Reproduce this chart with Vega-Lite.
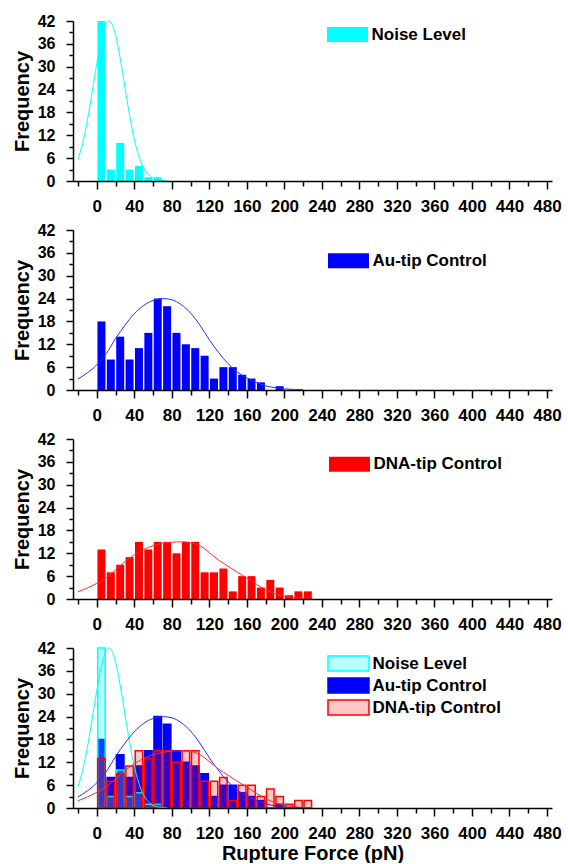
{
  "$schema": "https://vega.github.io/schema/vega-lite/v6.json",
  "background": "white",
  "padding": {"left": 12, "top": 13, "right": 0, "bottom": 0},
  "spacing": 8,
  "datasets": {
    "noise": [
      {"x": 5, "count": 42, "series": "Noise Level"},
      {"x": 15, "count": 3, "series": "Noise Level"},
      {"x": 25, "count": 10, "series": "Noise Level"},
      {"x": 35, "count": 3, "series": "Noise Level"},
      {"x": 45, "count": 4, "series": "Noise Level"},
      {"x": 55, "count": 1, "series": "Noise Level"},
      {"x": 65, "count": 1, "series": "Noise Level"}
    ],
    "au": [
      {"x": 5, "count": 18, "series": "Au-tip Control"},
      {"x": 15, "count": 8, "series": "Au-tip Control"},
      {"x": 25, "count": 14, "series": "Au-tip Control"},
      {"x": 35, "count": 8, "series": "Au-tip Control"},
      {"x": 45, "count": 11, "series": "Au-tip Control"},
      {"x": 55, "count": 15, "series": "Au-tip Control"},
      {"x": 65, "count": 24, "series": "Au-tip Control"},
      {"x": 75, "count": 22, "series": "Au-tip Control"},
      {"x": 85, "count": 15, "series": "Au-tip Control"},
      {"x": 95, "count": 12, "series": "Au-tip Control"},
      {"x": 105, "count": 11, "series": "Au-tip Control"},
      {"x": 115, "count": 9, "series": "Au-tip Control"},
      {"x": 125, "count": 3, "series": "Au-tip Control"},
      {"x": 135, "count": 6, "series": "Au-tip Control"},
      {"x": 145, "count": 6, "series": "Au-tip Control"},
      {"x": 155, "count": 4, "series": "Au-tip Control"},
      {"x": 165, "count": 3, "series": "Au-tip Control"},
      {"x": 175, "count": 2, "series": "Au-tip Control"},
      {"x": 195, "count": 1, "series": "Au-tip Control"}
    ],
    "dna": [
      {"x": 5, "count": 13, "series": "DNA-tip Control"},
      {"x": 15, "count": 7, "series": "DNA-tip Control"},
      {"x": 25, "count": 9, "series": "DNA-tip Control"},
      {"x": 35, "count": 11, "series": "DNA-tip Control"},
      {"x": 45, "count": 15, "series": "DNA-tip Control"},
      {"x": 55, "count": 13, "series": "DNA-tip Control"},
      {"x": 65, "count": 15, "series": "DNA-tip Control"},
      {"x": 75, "count": 15, "series": "DNA-tip Control"},
      {"x": 85, "count": 12, "series": "DNA-tip Control"},
      {"x": 95, "count": 15, "series": "DNA-tip Control"},
      {"x": 105, "count": 15, "series": "DNA-tip Control"},
      {"x": 115, "count": 7, "series": "DNA-tip Control"},
      {"x": 125, "count": 7, "series": "DNA-tip Control"},
      {"x": 135, "count": 8, "series": "DNA-tip Control"},
      {"x": 145, "count": 2, "series": "DNA-tip Control"},
      {"x": 155, "count": 6, "series": "DNA-tip Control"},
      {"x": 165, "count": 6, "series": "DNA-tip Control"},
      {"x": 175, "count": 3, "series": "DNA-tip Control"},
      {"x": 185, "count": 5, "series": "DNA-tip Control"},
      {"x": 195, "count": 3, "series": "DNA-tip Control"},
      {"x": 205, "count": 1, "series": "DNA-tip Control"},
      {"x": 215, "count": 2, "series": "DNA-tip Control"},
      {"x": 225, "count": 2, "series": "DNA-tip Control"}
    ],
    "noiseFit": [
      {"x": -20, "count": 5.7}, {"x": -15, "count": 9.9}, {"x": -10, "count": 15.9}, {"x": -5, "count": 23.2},
      {"x": 0, "count": 30.8}, {"x": 5, "count": 37.3}, {"x": 10, "count": 41.3}, {"x": 13, "count": 42},
      {"x": 15, "count": 41.7}, {"x": 20, "count": 38.4}, {"x": 25, "count": 32.2}, {"x": 30, "count": 24.7},
      {"x": 35, "count": 17.3}, {"x": 40, "count": 11.0}, {"x": 45, "count": 6.4}, {"x": 50, "count": 3.4},
      {"x": 55, "count": 1.65}, {"x": 60, "count": 0.73}, {"x": 65, "count": 0.29}, {"x": 70, "count": 0.11},
      {"x": 75, "count": 0.04}
    ],
    "auFit": [
      {"x": -20, "count": 2.9}, {"x": -10, "count": 4.5}, {"x": 0, "count": 6.6}, {"x": 10, "count": 9.5},
      {"x": 20, "count": 13.5}, {"x": 30, "count": 17.0}, {"x": 40, "count": 20.0}, {"x": 50, "count": 22.2},
      {"x": 60, "count": 23.5}, {"x": 70, "count": 24.0}, {"x": 80, "count": 23.7}, {"x": 90, "count": 22.4},
      {"x": 100, "count": 20.2}, {"x": 110, "count": 17.0}, {"x": 120, "count": 13.2}, {"x": 130, "count": 9.8},
      {"x": 140, "count": 6.9}, {"x": 150, "count": 4.7}, {"x": 160, "count": 3.2}, {"x": 170, "count": 2.0},
      {"x": 180, "count": 1.1}, {"x": 190, "count": 0.6}, {"x": 200, "count": 0.3}, {"x": 210, "count": 0.15},
      {"x": 220, "count": 0.07}
    ],
    "dnaFit": [
      {"x": -20, "count": 1.9}, {"x": -10, "count": 2.9}, {"x": 0, "count": 4.1}, {"x": 10, "count": 5.6},
      {"x": 20, "count": 7.6}, {"x": 30, "count": 9.8}, {"x": 40, "count": 11.6}, {"x": 50, "count": 13.0},
      {"x": 60, "count": 14.0}, {"x": 70, "count": 14.6}, {"x": 80, "count": 14.9}, {"x": 90, "count": 15.0},
      {"x": 100, "count": 14.8}, {"x": 110, "count": 14.0}, {"x": 120, "count": 12.2}, {"x": 130, "count": 10.2},
      {"x": 140, "count": 8.6}, {"x": 150, "count": 7.0}, {"x": 160, "count": 5.5}, {"x": 170, "count": 3.9},
      {"x": 180, "count": 2.5}, {"x": 190, "count": 1.4}, {"x": 200, "count": 0.7}, {"x": 210, "count": 0.35},
      {"x": 220, "count": 0.15}, {"x": 230, "count": 0.05}
    ]
  },
  "config": {
    "view": {"stroke": null},
    "axis": {
      "labelFont": "Liberation Sans", "labelFontWeight": "bold", "labelColor": "black",
      "titleFont": "Liberation Sans", "titleFontWeight": "bold", "titleColor": "black", "titleFontSize": 20,
      "domainColor": "black", "tickColor": "black", "domainWidth": 1.5, "tickWidth": 1.5,
      "grid": false, "labelFlush": false, "labelOverlap": false
    },
    "legend": {
      "orient": "none", "title": null, "labelFont": "Liberation Sans", "labelFontSize": 17,
      "labelFontWeight": "bold", "labelColor": "black", "symbolType": "M-2.733,-1H2.733V1H-2.733Z",
      "symbolSize": 225, "labelOffset": 15.5, "rowPadding": 1, "padding": 0, "symbolStrokeWidth": 1.5
    }
  },
  "resolve": {"scale": {"color": "independent", "stroke": "independent"}, "legend": {"color": "independent", "stroke": "independent"}},
  "vconcat": [
    {
      "width": 479, "height": 160,
      "encoding": {
        "x": {"field": "x", "type": "quantitative", "scale": {"domain": [-20, 480], "nice": false},
          "axis": {"title": null, "values": [-20,0,20,40,60,80,100,120,140,160,180,200,220,240,260,280,300,320,340,360,380,400,420,440,460,480],
            "labelExpr": "datum.value % 40 === 0 ? datum.label : ''", "labelFontSize": 17, "labelPadding": 9, "labelOverlap": false, "labelFlush": false,
            "tickSize": {"condition": {"test": "datum.value % 40 === 0", "value": 8}, "value": 5}, "zindex": 1}},
        "y": {"field": "count", "type": "quantitative", "stack": null, "scale": {"domain": [0, 42], "nice": false},
          "axis": {"title": "Frequency", "values": [0,3,6,9,12,15,18,21,24,27,30,33,36,39,42],
            "labelExpr": "datum.value % 6 === 0 ? datum.label : ''", "labelFontSize": 16, "labelPadding": 11, "titlePadding": 5, "labelOverlap": false,
            "tickSize": {"condition": {"test": "datum.value % 6 === 0", "value": 7}, "value": 4}, "zindex": 1}}
      },
      "layer": [
        {
          "data": {"name": "noise"},
          "mark": {"type": "bar", "size": 8},
          "encoding": {
            "color": {"field": "series", "type": "nominal", "scale": {"domain": ["Noise Level"], "range": ["#00ffff"]},
              "legend": {"legendX": 266, "legendY": 5}}
          }
        },
        {
          "data": {"name": "noiseFit"},
          "mark": {"type": "line", "color": "#00ffff", "strokeWidth": 1, "interpolate": "monotone"},
          "encoding": {}
        }
      ]
    },
    {
      "width": 479, "height": 160,
      "encoding": {
        "x": {"field": "x", "type": "quantitative", "scale": {"domain": [-20, 480], "nice": false},
          "axis": {"title": null, "values": [-20,0,20,40,60,80,100,120,140,160,180,200,220,240,260,280,300,320,340,360,380,400,420,440,460,480],
            "labelExpr": "datum.value % 40 === 0 ? datum.label : ''", "labelFontSize": 17, "labelPadding": 9, "labelOverlap": false, "labelFlush": false,
            "tickSize": {"condition": {"test": "datum.value % 40 === 0", "value": 8}, "value": 5}, "zindex": 1}},
        "y": {"field": "count", "type": "quantitative", "stack": null, "scale": {"domain": [0, 42], "nice": false},
          "axis": {"title": "Frequency", "values": [0,3,6,9,12,15,18,21,24,27,30,33,36,39,42],
            "labelExpr": "datum.value % 6 === 0 ? datum.label : ''", "labelFontSize": 16, "labelPadding": 11, "titlePadding": 5, "labelOverlap": false,
            "tickSize": {"condition": {"test": "datum.value % 6 === 0", "value": 7}, "value": 4}, "zindex": 1}}
      },
      "layer": [
        {
          "data": {"name": "au"},
          "mark": {"type": "bar", "size": 8},
          "encoding": {
            "color": {"field": "series", "type": "nominal", "scale": {"domain": ["Au-tip Control"], "range": ["#0000ff"]},
              "legend": {"legendX": 267, "legendY": 22.3}}
          }
        },
        {
          "data": {"name": "auFit"},
          "mark": {"type": "line", "color": "#2a2aff", "strokeWidth": 1, "interpolate": "monotone"},
          "encoding": {}
        }
      ]
    },
    {
      "width": 479, "height": 160,
      "encoding": {
        "x": {"field": "x", "type": "quantitative", "scale": {"domain": [-20, 480], "nice": false},
          "axis": {"title": null, "values": [-20,0,20,40,60,80,100,120,140,160,180,200,220,240,260,280,300,320,340,360,380,400,420,440,460,480],
            "labelExpr": "datum.value % 40 === 0 ? datum.label : ''", "labelFontSize": 17, "labelPadding": 9, "labelOverlap": false, "labelFlush": false,
            "tickSize": {"condition": {"test": "datum.value % 40 === 0", "value": 8}, "value": 5}, "zindex": 1}},
        "y": {"field": "count", "type": "quantitative", "stack": null, "scale": {"domain": [0, 42], "nice": false},
          "axis": {"title": "Frequency", "values": [0,3,6,9,12,15,18,21,24,27,30,33,36,39,42],
            "labelExpr": "datum.value % 6 === 0 ? datum.label : ''", "labelFontSize": 16, "labelPadding": 11, "titlePadding": 5, "labelOverlap": false,
            "tickSize": {"condition": {"test": "datum.value % 6 === 0", "value": 7}, "value": 4}, "zindex": 1}}
      },
      "layer": [
        {
          "data": {"name": "dna"},
          "mark": {"type": "bar", "size": 8},
          "encoding": {
            "color": {"field": "series", "type": "nominal", "scale": {"domain": ["DNA-tip Control"], "range": ["#ff0000"]},
              "legend": {"legendX": 268, "legendY": 16.7}}
          }
        },
        {
          "data": {"name": "dnaFit"},
          "mark": {"type": "line", "color": "#ff2a2a", "strokeWidth": 1, "interpolate": "monotone"},
          "encoding": {}
        }
      ]
    },
    {
      "width": 479, "height": 160,
      "encoding": {
        "x": {"field": "x", "type": "quantitative", "scale": {"domain": [-20, 480], "nice": false},
          "axis": {"title": "Rupture Force (pN)", "titlePadding": 2, "values": [-20,0,20,40,60,80,100,120,140,160,180,200,220,240,260,280,300,320,340,360,380,400,420,440,460,480],
            "labelExpr": "datum.value % 40 === 0 ? datum.label : ''", "labelFontSize": 17, "labelPadding": 9, "labelOverlap": false, "labelFlush": false,
            "tickSize": {"condition": {"test": "datum.value % 40 === 0", "value": 8}, "value": 5}, "zindex": 1}},
        "y": {"field": "count", "type": "quantitative", "stack": null, "scale": {"domain": [0, 42], "nice": false},
          "axis": {"title": "Frequency", "values": [0,3,6,9,12,15,18,21,24,27,30,33,36,39,42],
            "labelExpr": "datum.value % 6 === 0 ? datum.label : ''", "labelFontSize": 16, "labelPadding": 11, "titlePadding": 5, "labelOverlap": false,
            "tickSize": {"condition": {"test": "datum.value % 6 === 0", "value": 7}, "value": 4}, "zindex": 1}}
      },
      "layer": [
        {
          "data": {"name": "au"},
          "mark": {"type": "bar", "size": 7.5, "strokeWidth": 1.5},
          "encoding": {
            "color": {"field": "series", "type": "nominal",
              "scale": {"domain": ["Noise Level", "Au-tip Control", "DNA-tip Control"], "range": ["rgba(0,255,255,0.28)", "#0000ff", "rgba(255,0,0,0.22)"]},
              "legend": {"legendX": 267, "legendY": 7}},
            "stroke": {"field": "series", "type": "nominal",
              "scale": {"domain": ["Noise Level", "Au-tip Control", "DNA-tip Control"], "range": ["#00ffff", "#0000ff", "#ff0000"]},
              "legend": {"legendX": 267, "legendY": 7}}
          }
        },
        {
          "data": {"name": "noise"},
          "mark": {"type": "bar", "size": 7.5, "strokeWidth": 1.5},
          "encoding": {
            "color": {"field": "series", "type": "nominal"},
            "stroke": {"field": "series", "type": "nominal"}
          }
        },
        {
          "data": {"name": "dna"},
          "mark": {"type": "bar", "size": 7.5, "strokeWidth": 1.5},
          "encoding": {
            "color": {"field": "series", "type": "nominal"},
            "stroke": {"field": "series", "type": "nominal"}
          }
        },
        {
          "data": {"name": "noiseFit"},
          "mark": {"type": "line", "color": "#00ffff", "strokeWidth": 1, "interpolate": "monotone"},
          "encoding": {}
        },
        {
          "data": {"name": "auFit"},
          "mark": {"type": "line", "color": "#2a2aff", "strokeWidth": 1, "interpolate": "monotone"},
          "encoding": {}
        },
        {
          "data": {"name": "dnaFit"},
          "mark": {"type": "line", "color": "#ff2a2a", "strokeWidth": 1, "interpolate": "monotone"},
          "encoding": {}
        }
      ]
    }
  ]
}
